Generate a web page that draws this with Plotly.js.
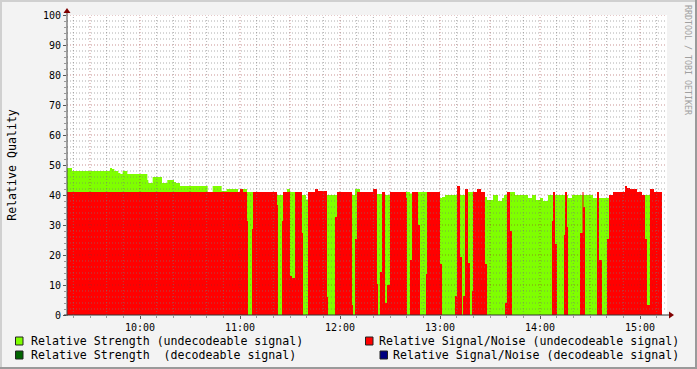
<!DOCTYPE html>
<html><head><meta charset="utf-8">
<script src="https://cdn.plot.ly/plotly-3.0.1.min.js"></script>
<style>html,body{margin:0;padding:0;background:#f3f3f3}#chart{width:697px;height:369px}</style>
</head><body><div id="chart"></div>
<script>
const DAY = '2024-01-01 ';
const times = ['09:16:12','09:19:12','09:42:00','09:43:12','09:44:36','09:47:00','09:48:12','09:49:36','09:52:24','10:04:24',
'10:05:00','10:07:36','10:13:12','10:16:24','10:20:24','10:21:36','10:24:00','10:40:36','10:43:36','10:49:00',
'10:52:00','10:58:48','11:00:00','11:01:48','11:04:12','11:04:48','11:07:12','11:07:48','11:22:12','11:22:48',
'11:25:12','11:25:48','11:28:12','11:30:00','11:31:12','11:33:00','11:37:12','11:37:48','11:39:36','11:40:48',
'11:45:00','11:46:48','11:52:12','11:52:48','11:57:00','11:58:12','12:07:12','12:07:48','12:09:00','12:10:12',
'12:12:00','12:19:48','12:22:12','12:22:48','12:24:00','12:25:12','12:27:00','12:28:12','12:30:00','12:39:36',
'12:40:12','12:42:00','12:43:12','12:46:48','12:48:00','12:51:36','12:52:12','13:00:00','13:01:12','13:03:00',
'13:09:00','13:10:12','13:12:00','13:13:12','13:13:48','13:15:00','13:16:48','13:18:00','13:19:12','13:19:48',
'13:22:12','13:24:36','13:27:00','13:28:12','13:31:48','13:34:48','13:37:12','13:38:24','13:39:00','13:40:12',
'13:42:00','13:43:12','13:45:00','13:52:48','13:55:12','13:57:36','14:00:00','14:01:48','14:04:48','14:07:12',
'14:07:48','14:09:00','14:10:12','14:14:24','14:15:00','14:16:12','14:16:48','14:19:12','14:24:00','14:25:30',
'14:26:06','14:27:00','14:31:48','14:34:12','14:35:24','14:37:12','14:40:12','14:41:24','14:43:48','14:51:00',
'14:52:12','14:54:00','14:58:12','15:01:12','15:03:00','15:04:12','15:06:00','15:08:24','15:13:12'];
const strength = [49,48,49,48.7,48,47.3,47,48,47,45,
44,46,44,45,44.3,44,43,40,43,41.3,
42,41,41,42,41,41,41,40,40,40,
40,40,42,41,41,40,40,40,38.5,40,
40,40,40,40,40,40,40,40,42,42,
40,40,40.3,40.3,40.3,40,40,40,40,41,
41,40.5,40,41,41,41,40,39,39.3,40,
40,40,40,40,40,40,41,41,41,40,
40,40,39.3,38.3,40,38,39,40,40,41,
41,41,40,39,40,38.3,39,38,40,40,
40,40,40,40,40,40,39,40,40,40,
40,40,39,39,39,39,39,39,39,39,
39,39,39,39,40,40,40,40,40];
const snr = [41,41,41,41,41,41,41,41,41,41,
41,41,41,41,41,41,41,41,41,41,
41,41,42,41,31.3,0,28.7,41,36.7,0,
31.3,41,41,13,12.3,41,27.3,0,0,41,
42,41.3,6,0,32.7,41,3.3,0,25.3,41,
41,42,10.3,0,14.3,41,4,10,41,39,
0,18.3,41,30,0,13.7,41,17,0,0,
6.3,43,19.3,0,6.3,42,17.3,0,8,41,
42,41,17,0,0,0,0,0,4,41,
28,0,0,0,0,0,0,0,0,31.3,
41,23.7,0,26.7,41,29.3,0,0,27.3,41,
36,0,0,41,18.3,0,25.3,40,41,43,
42.3,42,41,40,25.3,3.3,42,41,41];
const hourTicks = ['10:00','11:00','12:00','13:00','14:00','15:00'];
const seriesNames = ['Relative Strength (undecodeable signal)','Relative Signal/Noise (undecodeable signal)',
  'Relative Strength \u00a0(decodeable signal)','Relative Signal/Noise (decodeable signal)'];
const seriesColors = ['#7fff00','#ff0000','#006400','#000080'];
const yTitle = 'Relative Quality';
const watermark = 'RRDTOOL / TOBI OETIKER';

const X = times.map(t => DAY + t);
const MONO = 'DejaVu Sans Mono';
const L = 67, T = 15, W = 600, H = 300;
const px = p => (p - L) / W, py = q => (T + H - q) / H;

const traces = [
  {x: X, y: strength, type: 'scatter', mode: 'lines', fill: 'tozeroy', line: {shape: 'hv', width: 0},
   fillcolor: seriesColors[0], name: seriesNames[0]},
  {x: X, y: snr, type: 'scatter', mode: 'lines', fill: 'tozeroy', line: {shape: 'hv', width: 0},
   fillcolor: seriesColors[1], name: seriesNames[1]}
];

const shapes = [];
const minorCol = 'rgba(120,120,120,0.6)', majorCol = 'rgba(150,40,40,0.5)';
for (let v = 2; v <= 100; v += 2) {
  const major = v % 10 === 0;
  shapes.push({type: 'line', xref: 'paper', yref: 'y', x0: 0, x1: 1, y0: v, y1: v, layer: 'above',
    line: {color: major ? majorCol : minorCol, width: 1, dash: '1px,2px'}});
}
const start = new Date('2024-01-01T09:20:00');
for (let m = 0; m <= 350; m += 10) {
  const d = new Date(start.getTime() + m * 60000);
  const mm = d.getMinutes(), hh = d.getHours();
  const s = DAY + String(hh).padStart(2, '0') + ':' + String(mm).padStart(2, '0') + ':00';
  const major = mm % 30 === 0;
  shapes.push({type: 'line', xref: 'x', yref: 'paper', x0: s, x1: s, y0: 0, y1: 1, layer: 'above',
    line: {color: major ? majorCol : minorCol, width: 1, dash: '1px,2px'}});
}
// axes lines + arrows
shapes.push({type: 'line', xref: 'paper', yref: 'paper', x0: px(64), x1: px(670), y0: py(315), y1: py(315), layer: 'above', line: {color: '#333', width: 1}});
shapes.push({type: 'line', xref: 'paper', yref: 'paper', x0: px(67), x1: px(67), y0: py(316), y1: py(12), layer: 'above', line: {color: '#444', width: 1}});
shapes.push({type: 'path', xref: 'paper', yref: 'paper', layer: 'above', fillcolor: '#7f0000', line: {width: 0},
  path: `M ${px(63.5)} ${py(13)} L ${px(70.5)} ${py(13)} L ${px(67)} ${py(8)} Z`});
shapes.push({type: 'path', xref: 'paper', yref: 'paper', layer: 'above', fillcolor: '#7f0000', line: {width: 0},
  path: `M ${px(669)} ${py(311.5)} L ${px(669)} ${py(318.5)} L ${px(674)} ${py(315)} Z`});
// frame
shapes.push({type: 'rect', xref: 'paper', yref: 'paper', x0: px(695), x1: px(697), y0: py(0), y1: py(369), fillcolor: '#9a9a9a', line: {width: 0}, layer: 'above'});
shapes.push({type: 'rect', xref: 'paper', yref: 'paper', x0: px(0), x1: px(697), y0: py(367), y1: py(369), fillcolor: '#9a9a9a', line: {width: 0}, layer: 'above'});
shapes.push({type: 'rect', xref: 'paper', yref: 'paper', x0: px(0), x1: px(2), y0: py(0), y1: py(367), fillcolor: '#d0d0d0', line: {width: 0}, layer: 'above'});
shapes.push({type: 'rect', xref: 'paper', yref: 'paper', x0: px(0), x1: px(695), y0: py(0), y1: py(2), fillcolor: '#d0d0d0', line: {width: 0}, layer: 'above'});

// legend
const annotations = [];
const legendPos = [
  {sx: 15.5, tx: 30, y: 341, anchor: 'left'},
  {sx: 365.5, tx: 680, y: 341, anchor: 'right'},
  {sx: 15.5, tx: 30, y: 355, anchor: 'left'},
  {sx: 380, tx: 680, y: 355, anchor: 'right'}
];
legendPos.forEach((p, i) => {
  shapes.push({type: 'rect', xref: 'paper', yref: 'paper', x0: px(p.sx), x1: px(p.sx + 7.5), y0: py(p.y + 4), y1: py(p.y - 4),
    fillcolor: seriesColors[i], line: {color: '#222', width: 1}});
  annotations.push({xref: 'paper', yref: 'paper', x: px(p.tx), y: py(p.y), xanchor: p.anchor, yanchor: 'middle',
    text: seriesNames[i], showarrow: false, borderpad: 0, font: {family: MONO, size: 11.6, color: '#000'}});
});
annotations.push({xref: 'paper', yref: 'paper', x: px(688), y: py(60), xanchor: 'center', yanchor: 'middle',
  text: watermark, textangle: 90, showarrow: false, borderpad: 0, font: {family: MONO, size: 8.3, color: '#a0a0a0'}});

const layout = {
  width: 697, height: 369,
  margin: {l: L, r: 697 - L - W, t: T, b: 369 - T - H},
  paper_bgcolor: '#f3f3f3', plot_bgcolor: '#ffffff',
  showlegend: false,
  font: {family: MONO, size: 10, color: '#000'},
  xaxis: {type: 'date', range: [DAY + '09:16:12', DAY + '15:16:12'],
    tickmode: 'array', tickvals: hourTicks.map(h => DAY + h + ':00'), ticktext: hourTicks,
    showgrid: false, zeroline: false, showline: false, ticks: 'outside', ticklen: 3, tickcolor: '#555',
    minor: {tick0: DAY + '09:20:00', dtick: 600000, ticks: 'outside', ticklen: 2, tickcolor: '#999', showgrid: false},
    tickfont: {family: MONO, size: 10, color: '#000'}, fixedrange: true},
  yaxis: {range: [0, 100], dtick: 10, tick0: 0, showgrid: false, zeroline: false, showline: false,
    ticks: 'outside', ticklen: 3, tickcolor: '#555',
    minor: {dtick: 2, ticks: 'outside', ticklen: 2, tickcolor: '#999', showgrid: false},
    tickfont: {family: MONO, size: 10, color: '#000'},
    title: {text: yTitle, font: {family: MONO, size: 11.6, color: '#000'}, standoff: 23}, fixedrange: true},
  shapes: shapes, annotations: annotations
};
Plotly.newPlot('chart', traces, layout, {staticPlot: true, displayModeBar: false});
</script></body></html>
